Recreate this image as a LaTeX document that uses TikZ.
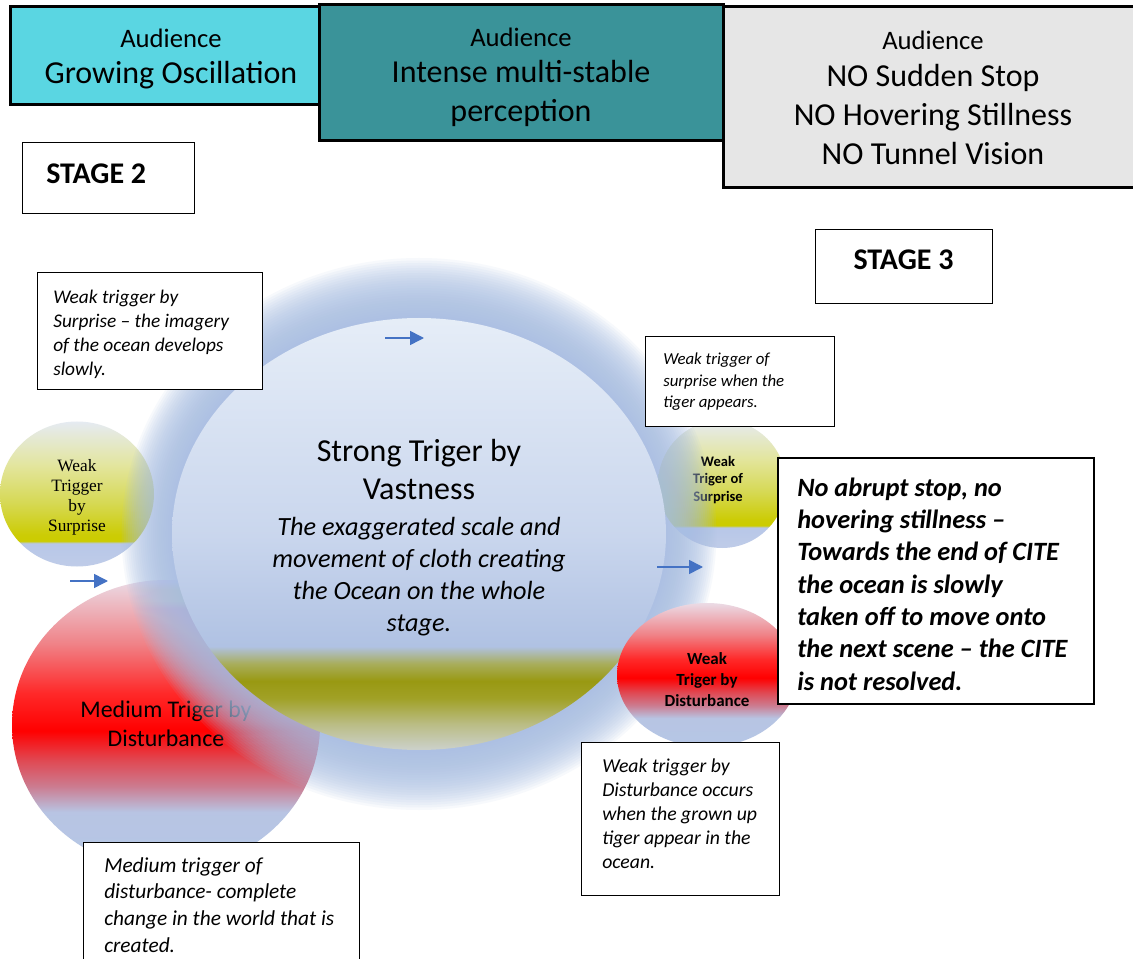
\documentclass[tikz,border=0pt]{standalone}
\usepackage{fontspec}
\setmainfont{Carlito}
\newfontfamily\timesface{Liberation Serif}
\usetikzlibrary{arrows.meta,fit,shapes.geometric}

\definecolor{headcyan}{RGB}{90,214,226}
\definecolor{headteal}{RGB}{58,147,153}
\definecolor{headgray}{RGB}{230,230,230}
\definecolor{glowblue}{RGB}{168,190,227}
\definecolor{arrowblue}{RGB}{68,114,196}

% vertical fills of the trigger balls (stops run bottom to top, 25bp..75bp = ball)
\pgfdeclareverticalshading{oceanfill}{100bp}{%
  rgb(0bp)=(0.80,0.82,0.80); rgb(25bp)=(0.80,0.82,0.80);
  rgb(28bp)=(0.73,0.74,0.52); rgb(31bp)=(0.63,0.63,0.15);
  rgb(33bp)=(0.60,0.60,0.07); rgb(35bp)=(0.66,0.68,0.36);
  rgb(37bp)=(0.69,0.76,0.89); rgb(50bp)=(0.79,0.84,0.93);
  rgb(75bp)=(0.90,0.93,0.97); rgb(100bp)=(0.90,0.93,0.97)}
\pgfdeclareverticalshading{yellowfill}{100bp}{%
  rgb(0bp)=(0.75,0.80,0.91); rgb(25bp)=(0.75,0.80,0.91);
  rgb(33bp)=(0.72,0.78,0.91); rgb(33.8bp)=(0.80,0.80,0.00);
  rgb(36bp)=(0.80,0.80,0.02); rgb(47bp)=(0.84,0.85,0.33);
  rgb(60bp)=(0.89,0.90,0.62); rgb(75bp)=(0.90,0.92,0.95);
  rgb(100bp)=(0.90,0.92,0.95)}
\pgfdeclareverticalshading{redfill}{100bp}{%
  rgb(0bp)=(0.71,0.78,0.90); rgb(25bp)=(0.71,0.78,0.90);
  rgb(35bp)=(0.72,0.77,0.89); rgb(39.5bp)=(0.80,0.48,0.56);
  rgb(44bp)=(0.88,0.28,0.32); rgb(49bp)=(1,0,0);
  rgb(55.5bp)=(1,0.16,0.16); rgb(64bp)=(0.94,0.51,0.53);
  rgb(75bp)=(0.92,0.86,0.90); rgb(100bp)=(0.92,0.86,0.90)}

\begin{document}
\begin{tikzpicture}[x=0.75pt, y=-0.75pt,
  hdr/.style={draw=black, line width=2.25pt, inner sep=0pt},
  hdrtext/.style={inner sep=0pt, align=center, font=\fontsize{24}{29.25}\selectfont},
  tbox/.style={draw=black, line width=0.75pt, fill=white, inner sep=0pt},
  ttext/.style={anchor=west, align=left, inner sep=0pt},
  ball/.style={ellipse, shade, inner sep=0pt},
  balltext/.style={inner sep=0pt, align=center},
  flow/.style={draw=arrowblue, line width=1.2pt,
    -{Triangle[length=10.5pt,width=10.5pt]}},
]
\useasboundingbox (0,0) rectangle (1133,959);
\clip (0,0) rectangle (1133,959);
\fill[white] (0,0) rectangle (1133,959);

% balls lying under the glow of the big one
\node[ball, shading=yellowfill, minimum width=154*0.75pt, minimum height=145*0.75pt] (surpL) at (77,494) {};
\node[balltext, font=\timesface\fontsize{13}{15}\selectfont] (surpLtxt) at (77,497.5)
  {Weak\\Trigger\\by\\Surprise};
\node[ball, shading=redfill, minimum width=308*0.75pt, minimum height=290*0.75pt] (distL) at (166,725) {};
\node[balltext, font=\fontsize{17.9}{21.75}\selectfont] (distLtxt) at (166,724)
  {Medium Triger by\\Disturbance};
\node[ball, shading=yellowfill, minimum width=128*0.75pt, minimum height=128*0.75pt] (surpR) at (722,484) {};
\node[balltext, font=\bfseries\fontsize{10.9}{13}\selectfont] (surpRtxt) at (718,480)
  {Weak\\Triger of\\Surprise};

% soft glow round the vastness ball
\foreach \k in {1,...,24}
  \fill[glowblue, fill opacity=0.09] (419,534) ellipse [x radius={247+2.1*\k}, y radius={216+2.5*\k}];

\node[ball, shading=oceanfill, minimum width=494*0.75pt, minimum height=432*0.75pt] (vast) at (419,534) {};
\node[balltext, font=\itshape\fontsize{19.7}{24}\selectfont] (vasttxt) at (419,537.5)
  {{\upshape\fontsize{24}{28.7}\selectfont Strong Triger by}\\[4.5pt]
   {\upshape\fontsize{24}{28.7}\selectfont Vastness}\\[3pt]
   The exaggerated scale and\\movement of cloth creating\\the Ocean on the whole\\stage.};

\node[ball, shading=redfill, minimum width=180*0.75pt, minimum height=144*0.75pt] (distR) at (707,675) {};
\node[balltext, font=\bfseries\fontsize{12.75}{15.75}\selectfont] (distRtxt) at (707,680)
  {Weak\\Triger by\\Disturbance};

% flow arrows
\coordinate (a1s) at (385,338); \coordinate (a1e) at (424,338);
\coordinate (a2s) at (70,581);  \coordinate (a2e) at (108,581);
\coordinate (a3s) at (657,567); \coordinate (a3e) at (703,567);
\draw[flow] (a1s) -- (a1e);
\draw[flow] (a2s) -- (a2e);
\draw[flow] (a3s) -- (a3e);

% comment boxes
\node[tbox, fit={(37,273) (262,390)}] (boxA) {};
\node[ttext, font=\itshape\fontsize{14.5}{18}\selectfont] (txtA) at (53,334)
  {Weak trigger by\\Surprise -- the imagery\\of the ocean develops\\slowly.};

\node[tbox, fit={(645,337) (834,427)}] (boxB) {};
\node[ttext, font=\itshape\fontsize{12.6}{16.1}\selectfont] (txtB) at (663,382)
  {Weak trigger of\\surprise when the\\tiger appears.};

\node[tbox, line width=1pt, fit={(778,458) (1094,704)}] (boxC) {};
\node[ttext, font=\bfseries\itshape\fontsize{19.8}{24.25}\selectfont] (txtC) at (797,584)
  {No abrupt stop, no\\hovering stillness --\\Towards the end of CITE\\the ocean is slowly\\taken off to move onto\\the next scene -- the CITE\\is not resolved.};

\node[tbox, fit={(581,742) (779,895)}] (boxD) {};
\node[ttext, font=\itshape\fontsize{14.8}{18}\selectfont] (txtD) at (602,814)
  {Weak trigger by\\Disturbance occurs\\when the grown up\\tiger appear in the\\ocean.};

\node[tbox, fit={(83,842) (359,980)}] (boxE) {};
\node[ttext, font=\itshape\fontsize{16}{20}\selectfont] (txtE) at (104,905)
  {Medium trigger of\\disturbance- complete\\change in the world that is\\created.};

% stage labels
\node[tbox, fit={(22,143) (194,214)}] (stage2box) {};
\node[ttext, font=\bfseries\fontsize{22.5}{27}\selectfont] (stage2) at (46,174) {STAGE 2};
\node[tbox, fit={(815,230) (992,304)}] (stage3box) {};
\node[inner sep=0pt, font=\bfseries\fontsize{22.5}{27}\selectfont] (stage3) at (903.5,260) {STAGE 3};

% audience headers
\node[hdr, fill=headcyan, fit={(10,7) (332,105)}] (aud1) {};
\node[hdrtext] (aud1txt) at (171,59)
  {{\fontsize{20}{24}\selectfont Audience}\\[-2.25pt]Growing Oscillation};
\node[hdr, fill=headteal, fit={(319,5) (723,141)}] (aud2) {};
\node[hdrtext] (aud2txt) at (521,77)
  {{\fontsize{20}{24}\selectfont Audience}\\[-2.25pt]Intense multi-stable\\perception};
\node[hdr, fill=headgray, fit={(723,7) (1145,188)}] (aud3) {};
\node[hdrtext] (aud3txt) at (933,98)
  {{\fontsize{20}{24}\selectfont Audience}\\[-1.5pt]NO Sudden Stop\\NO Hovering Stillness\\NO Tunnel Vision};
\end{tikzpicture}
\end{document}
